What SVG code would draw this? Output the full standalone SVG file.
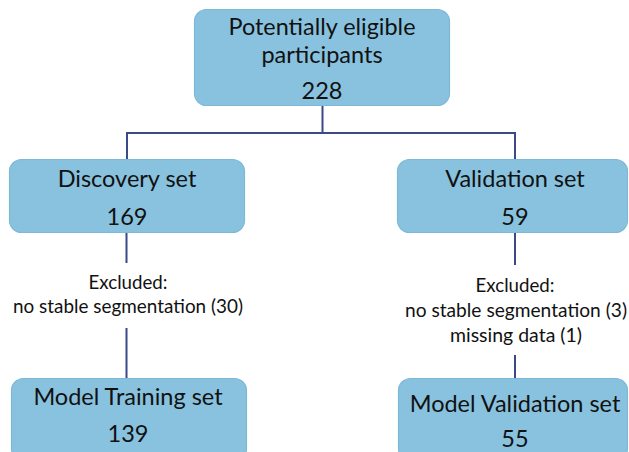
<svg xmlns="http://www.w3.org/2000/svg" width="629" height="452" viewBox="0 0 629 452">
  <style>
    .box { fill: #88c2de; stroke: #7db9d7; stroke-width: 1.2; }
    .title { font-family: Lato, "Liberation Sans", sans-serif; font-size: 23.5px; fill: #111; text-anchor: middle; }
    .note { font-family: Lato, "Liberation Sans", sans-serif; font-size: 19px; fill: #111; text-anchor: middle; }
    .link { stroke: #3b4a86; stroke-width: 2; fill: none; }
  </style>
  <rect width="629" height="452" fill="#ffffff"/>

  <g id="connectors">
    <path class="link" d="M322.5 106 V133 M127 133 H515.5 M127 132 V159 M515 132 V159"/>
    <path class="link" d="M126.5 233 V263 M126.5 328 V378"/>
    <path class="link" d="M515 233 V265 M515 355 V378"/>
  </g>

  <g id="eligible">
    <rect class="box" x="194.5" y="9.5" width="255" height="96" rx="12"/>
    <text class="title" x="322" y="35" textLength="187" lengthAdjust="spacingAndGlyphs">Potentially eligible</text>
    <text class="title" x="322" y="63">participants</text>
    <text class="title" x="322" y="99">228</text>
  </g>

  <g id="discovery">
    <rect class="box" x="9.5" y="159.5" width="235" height="73" rx="12"/>
    <text class="title" x="127" y="187">Discovery set</text>
    <text class="title" x="127" y="225">169</text>
  </g>

  <g id="validation">
    <rect class="box" x="397.5" y="159.5" width="230" height="73" rx="12"/>
    <text class="title" x="515" y="187">Validation set</text>
    <text class="title" x="515" y="225">59</text>
  </g>

  <g id="excluded-discovery">
    <text class="note" x="128" y="289" textLength="79" lengthAdjust="spacingAndGlyphs">Excluded:</text>
    <text class="note" x="128" y="313" textLength="230" lengthAdjust="spacingAndGlyphs">no stable segmentation (30)</text>
  </g>

  <g id="excluded-validation">
    <text class="note" x="515" y="292" textLength="79" lengthAdjust="spacingAndGlyphs">Excluded:</text>
    <text class="note" x="516" y="317" textLength="222" lengthAdjust="spacingAndGlyphs">no stable segmentation (3)</text>
    <text class="note" x="516" y="342" textLength="132" lengthAdjust="spacingAndGlyphs">missing data (1)</text>
  </g>

  <g id="model-training">
    <rect class="box" x="11.5" y="378.5" width="235" height="82" rx="12"/>
    <text class="title" x="128" y="405">Model Training set</text>
    <text class="title" x="128" y="442">139</text>
  </g>

  <g id="model-validation">
    <rect class="box" x="398.5" y="378.5" width="229" height="82" rx="12"/>
    <text class="title" x="515" y="412">Model Validation set</text>
    <text class="title" x="515" y="447">55</text>
  </g>
</svg>
